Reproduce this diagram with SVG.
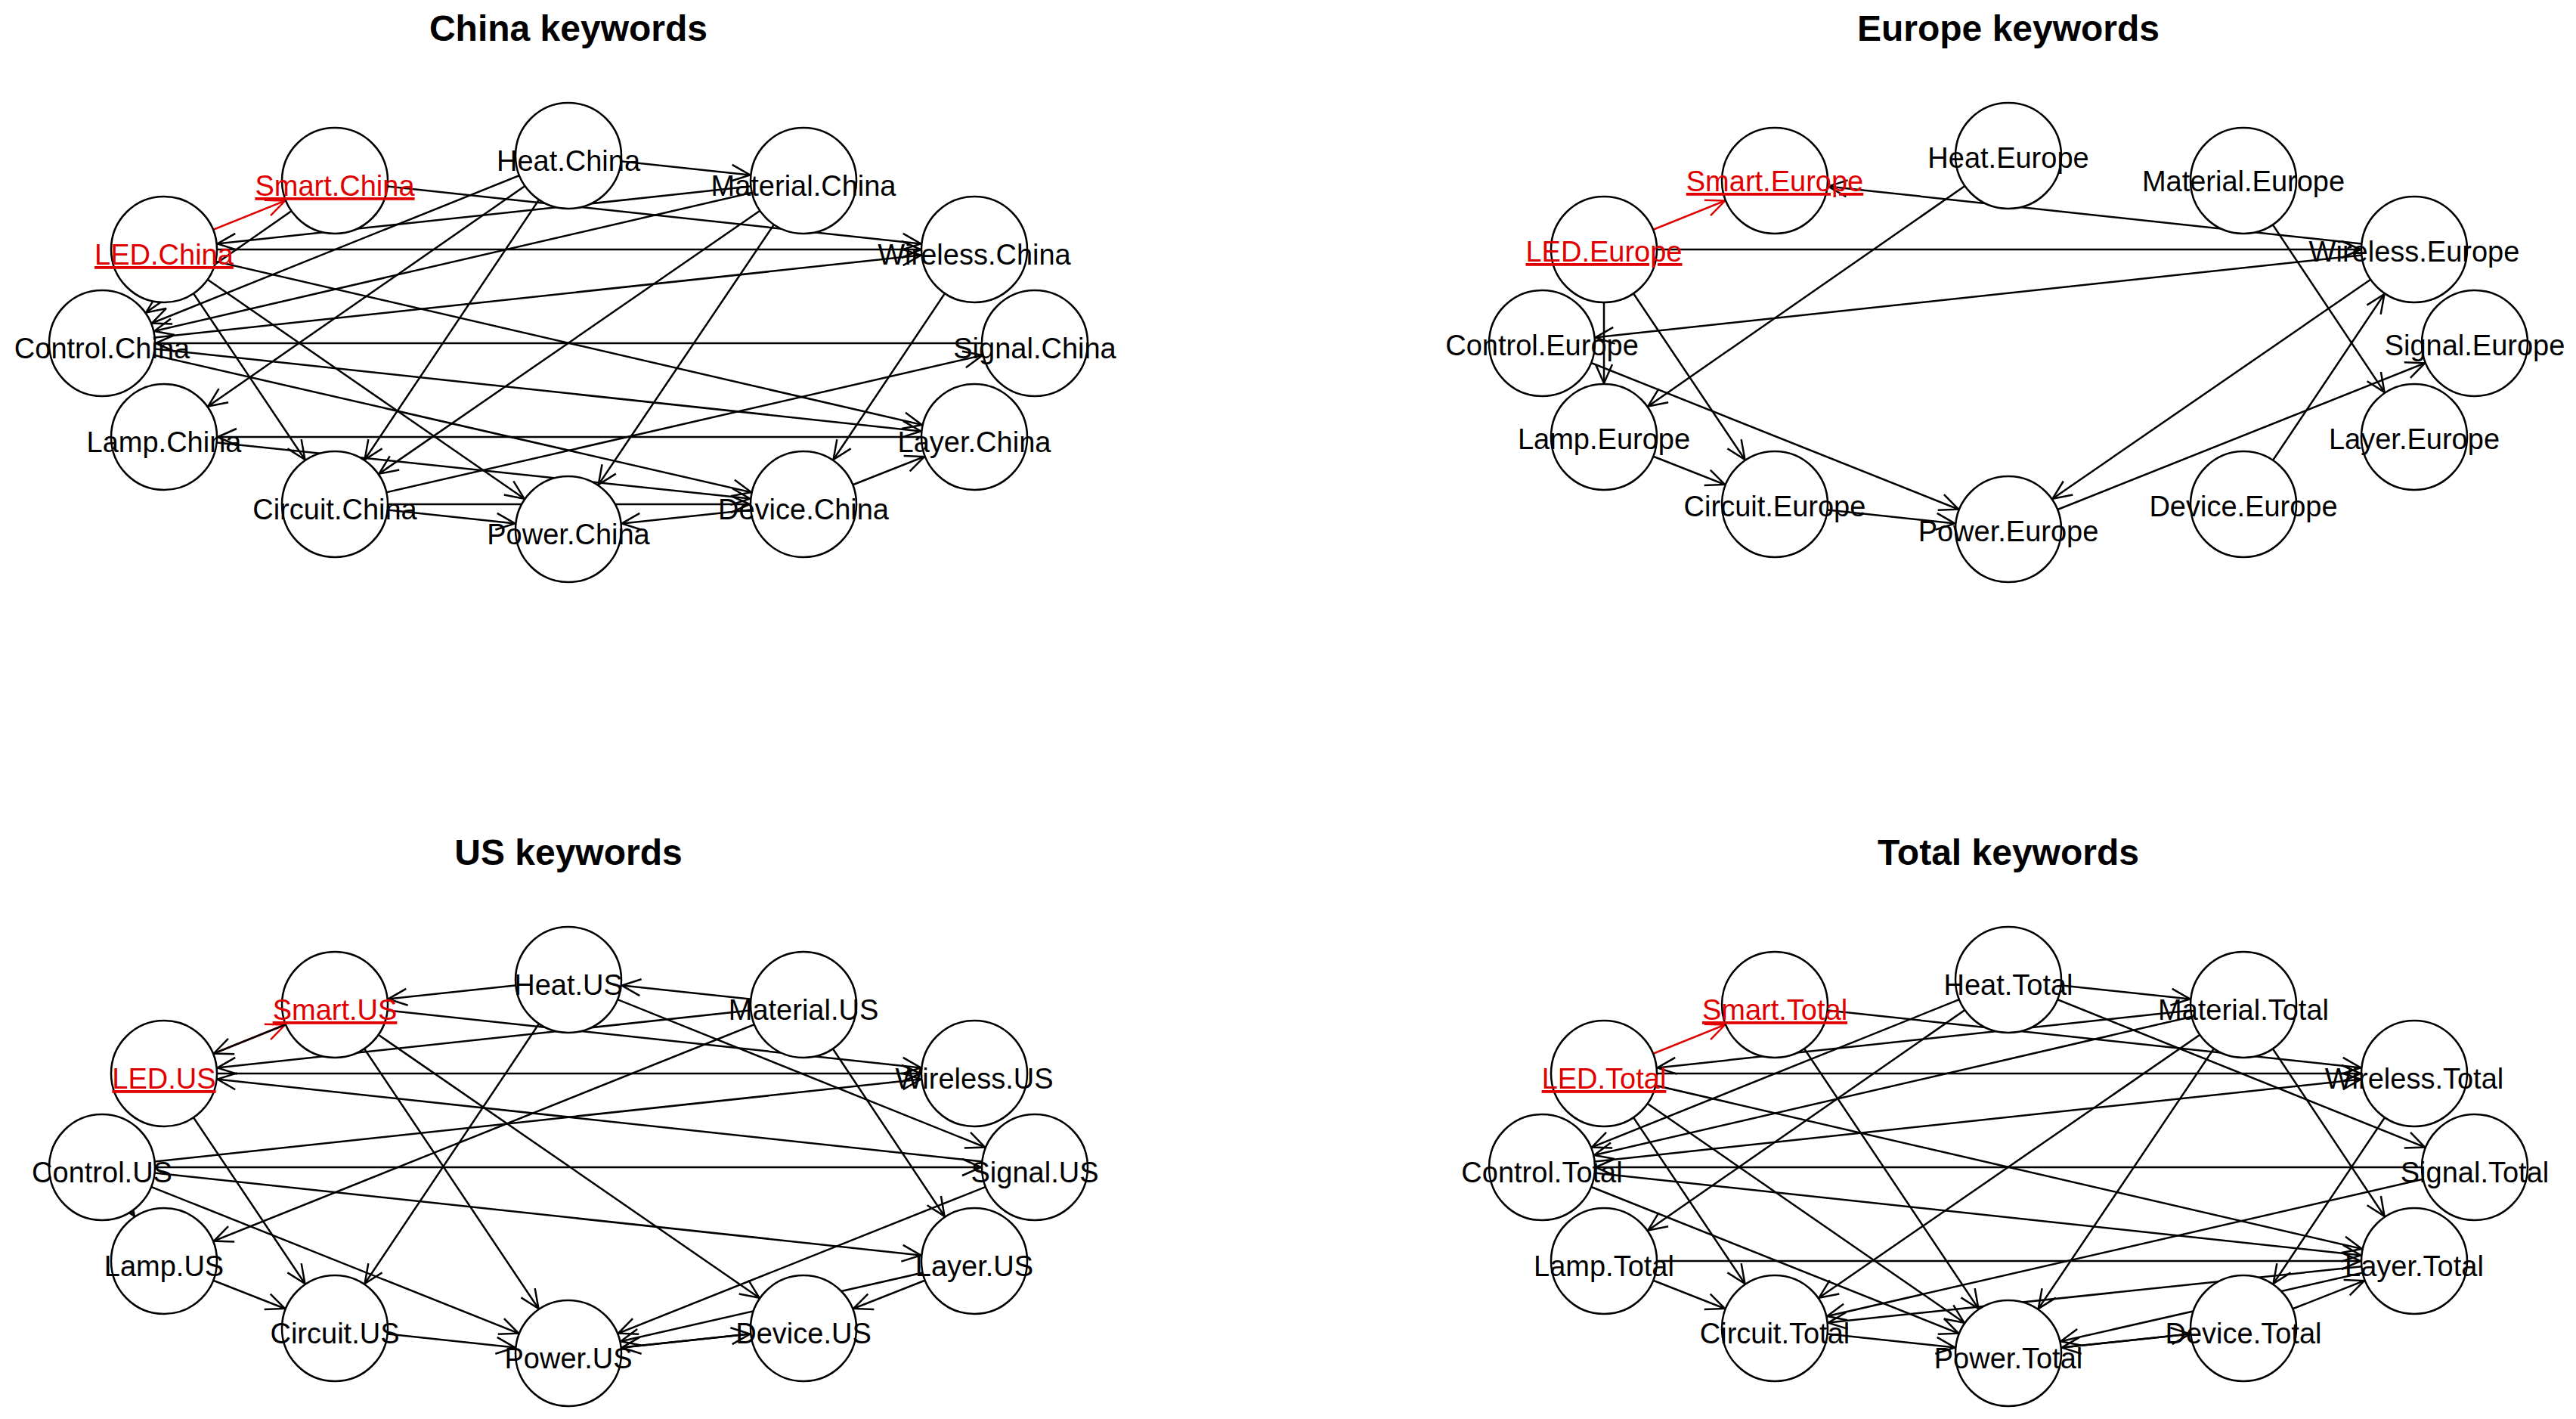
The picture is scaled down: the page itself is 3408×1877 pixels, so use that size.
<svg xmlns="http://www.w3.org/2000/svg" width="3408" height="1877" viewBox="0 0 3408 1877">
<style>
.t{font-family:"Liberation Sans",Arial,sans-serif;font-weight:bold;font-size:48px;text-anchor:middle;fill:#000}
.l{font-family:"Liberation Sans",Arial,sans-serif;font-size:38px;text-anchor:middle;fill:#000}
.r{fill:#e00000;text-decoration:underline}
.n{fill:#fff;stroke:#000;stroke-width:2.5}
.e{stroke:#000;stroke-width:2.5;fill:none;marker-end:url(#a)}
.er{stroke:#e00000;stroke-width:2.5;fill:none;marker-end:url(#ar)}
</style>
<defs>
<marker id="a" markerUnits="userSpaceOnUse" orient="auto" markerWidth="10" markerHeight="10" refX="0" refY="0" overflow="visible"><path d="M-96,-11 L-71,0 L-96,11" fill="none" stroke="#000" stroke-width="2.5"/></marker>
<marker id="ar" markerUnits="userSpaceOnUse" orient="auto" markerWidth="10" markerHeight="10" refX="0" refY="0" overflow="visible"><path d="M-96,-11 L-71,0 L-96,11" fill="none" stroke="#e00000" stroke-width="2.5"/></marker>
</defs>
<rect width="3408" height="1877" fill="#fff"/>
<text class="t" x="752" y="54">China keywords</text>
<text class="t" x="2657" y="54">Europe keywords</text>
<text class="t" x="752" y="1144">US keywords</text>
<text class="t" x="2657" y="1144">Total keywords</text>
<g id="connectors">
<g transform="translate(0,0)">
<line class="er" x1="217" y1="330" x2="443" y2="239"/>
<line class="e" x1="752" y1="206" x2="1063" y2="239"/>
<line class="e" x1="443" y1="239" x2="1289" y2="330"/>
<line class="e" x1="217" y1="330" x2="1289" y2="330"/>
<line class="e" x1="135" y1="454" x2="1289" y2="330"/>
<line class="e" x1="1063" y1="239" x2="217" y2="330"/>
<line class="e" x1="1063" y1="239" x2="135" y2="454"/>
<line class="e" x1="752" y1="206" x2="135" y2="454"/>
<line class="e" x1="1369" y1="454" x2="135" y2="454"/>
<line class="e" x1="752" y1="206" x2="217" y2="578"/>
<line class="e" x1="752" y1="206" x2="443" y2="667"/>
<line class="e" x1="1063" y1="239" x2="443" y2="667"/>
<line class="e" x1="1063" y1="239" x2="752" y2="700"/>
<line class="e" x1="217" y1="330" x2="1289" y2="578"/>
<line class="e" x1="217" y1="330" x2="752" y2="700"/>
<line class="e" x1="217" y1="330" x2="443" y2="667"/>
<line class="e" x1="135" y1="454" x2="1289" y2="578"/>
<line class="e" x1="135" y1="454" x2="1063" y2="667"/>
<line class="e" x1="1289" y1="578" x2="217" y2="578"/>
<line class="e" x1="217" y1="578" x2="1063" y2="667"/>
<line class="e" x1="443" y1="667" x2="1063" y2="667"/>
<line class="e" x1="443" y1="667" x2="752" y2="700"/>
<line class="e" x1="1063" y1="667" x2="752" y2="700"/>
<line class="e" x1="443" y1="667" x2="1369" y2="454"/>
<line class="e" x1="1063" y1="667" x2="1289" y2="578"/>
<line class="e" x1="1289" y1="330" x2="1063" y2="667"/>
<line class="e" x1="443" y1="239" x2="135" y2="454"/>
</g>
<g transform="translate(1905,0)">
<line class="er" x1="217" y1="330" x2="443" y2="239"/>
<line class="e" x1="1289" y1="330" x2="443" y2="239"/>
<line class="e" x1="217" y1="330" x2="1289" y2="330"/>
<line class="e" x1="1289" y1="330" x2="135" y2="454"/>
<line class="e" x1="752" y1="206" x2="217" y2="578"/>
<line class="e" x1="217" y1="330" x2="443" y2="667"/>
<line class="e" x1="217" y1="330" x2="217" y2="578"/>
<line class="e" x1="135" y1="454" x2="752" y2="700"/>
<line class="e" x1="217" y1="578" x2="443" y2="667"/>
<line class="e" x1="443" y1="667" x2="752" y2="700"/>
<line class="e" x1="1289" y1="330" x2="752" y2="700"/>
<line class="e" x1="752" y1="700" x2="1369" y2="454"/>
<line class="e" x1="1063" y1="667" x2="1289" y2="330"/>
<line class="e" x1="1063" y1="239" x2="1289" y2="578"/>
</g>
<g transform="translate(0,1090)">
<line class="er" x1="217" y1="330" x2="443" y2="239"/>
<line class="e" x1="443" y1="239" x2="217" y2="330"/>
<line class="e" x1="752" y1="206" x2="443" y2="239"/>
<line class="e" x1="1063" y1="239" x2="217" y2="330"/>
<line class="e" x1="217" y1="330" x2="1289" y2="330"/>
<line class="e" x1="1369" y1="454" x2="217" y2="330"/>
<line class="e" x1="443" y1="239" x2="1289" y2="330"/>
<line class="e" x1="135" y1="454" x2="1289" y2="330"/>
<line class="e" x1="135" y1="454" x2="1369" y2="454"/>
<line class="e" x1="135" y1="454" x2="1289" y2="578"/>
<line class="e" x1="217" y1="330" x2="443" y2="667"/>
<line class="e" x1="135" y1="454" x2="752" y2="700"/>
<line class="e" x1="217" y1="578" x2="443" y2="667"/>
<line class="e" x1="752" y1="206" x2="443" y2="667"/>
<line class="e" x1="443" y1="239" x2="752" y2="700"/>
<line class="e" x1="443" y1="239" x2="1063" y2="667"/>
<line class="e" x1="752" y1="206" x2="1369" y2="454"/>
<line class="e" x1="1063" y1="239" x2="217" y2="578"/>
<line class="e" x1="1063" y1="239" x2="1289" y2="578"/>
<line class="e" x1="1063" y1="239" x2="752" y2="206"/>
<line class="e" x1="1289" y1="578" x2="1063" y2="667"/>
<line class="e" x1="1289" y1="578" x2="752" y2="700"/>
<line class="e" x1="1369" y1="454" x2="752" y2="700"/>
<line class="e" x1="1063" y1="667" x2="752" y2="700"/>
<line class="e" x1="443" y1="667" x2="752" y2="700"/>
<line class="e" x1="752" y1="700" x2="1063" y2="667"/>
<line class="e" x1="135" y1="454" x2="217" y2="578"/>
</g>
<g transform="translate(1905,1090)">
<line class="er" x1="217" y1="330" x2="443" y2="239"/>
<line class="e" x1="752" y1="206" x2="1063" y2="239"/>
<line class="e" x1="443" y1="239" x2="1289" y2="330"/>
<line class="e" x1="217" y1="330" x2="1289" y2="330"/>
<line class="e" x1="135" y1="454" x2="1289" y2="330"/>
<line class="e" x1="1063" y1="239" x2="135" y2="454"/>
<line class="e" x1="752" y1="206" x2="135" y2="454"/>
<line class="e" x1="1063" y1="239" x2="217" y2="330"/>
<line class="e" x1="1369" y1="454" x2="135" y2="454"/>
<line class="e" x1="217" y1="330" x2="1289" y2="578"/>
<line class="e" x1="135" y1="454" x2="1289" y2="578"/>
<line class="e" x1="217" y1="578" x2="1289" y2="578"/>
<line class="e" x1="217" y1="330" x2="752" y2="700"/>
<line class="e" x1="752" y1="206" x2="217" y2="578"/>
<line class="e" x1="1063" y1="239" x2="443" y2="667"/>
<line class="e" x1="1063" y1="239" x2="752" y2="700"/>
<line class="e" x1="443" y1="667" x2="752" y2="700"/>
<line class="e" x1="1063" y1="667" x2="752" y2="700"/>
<line class="e" x1="1289" y1="578" x2="443" y2="667"/>
<line class="e" x1="1369" y1="454" x2="443" y2="667"/>
<line class="e" x1="1289" y1="578" x2="752" y2="700"/>
<line class="e" x1="1063" y1="667" x2="1289" y2="578"/>
<line class="e" x1="443" y1="239" x2="752" y2="700"/>
<line class="e" x1="752" y1="206" x2="1369" y2="454"/>
<line class="e" x1="1063" y1="239" x2="1289" y2="578"/>
<line class="e" x1="217" y1="330" x2="443" y2="667"/>
<line class="e" x1="135" y1="454" x2="752" y2="700"/>
<line class="e" x1="217" y1="578" x2="443" y2="667"/>
<line class="e" x1="1289" y1="330" x2="1063" y2="667"/>
<line class="e" x1="752" y1="700" x2="1063" y2="667"/>
</g>
</g>
<g id="china" transform="translate(0,0)">
<g id="smart-china"><circle class="n" cx="443" cy="239" r="70"/><text class="l r" x="443" y="259">Smart.China</text></g>
<g id="heat-china"><circle class="n" cx="752" cy="206" r="70"/><text class="l" x="752" y="226">Heat.China</text></g>
<g id="material-china"><circle class="n" cx="1063" cy="239" r="70"/><text class="l" x="1063" y="259">Material.China</text></g>
<g id="wireless-china"><circle class="n" cx="1289" cy="330" r="70"/><text class="l" x="1289" y="350">Wireless.China</text></g>
<g id="signal-china"><circle class="n" cx="1369" cy="454" r="70"/><text class="l" x="1369" y="474">Signal.China</text></g>
<g id="layer-china"><circle class="n" cx="1289" cy="578" r="70"/><text class="l" x="1289" y="598">Layer.China</text></g>
<g id="device-china"><circle class="n" cx="1063" cy="667" r="70"/><text class="l" x="1063" y="687">Device.China</text></g>
<g id="power-china"><circle class="n" cx="752" cy="700" r="70"/><text class="l" x="752" y="720">Power.China</text></g>
<g id="circuit-china"><circle class="n" cx="443" cy="667" r="70"/><text class="l" x="443" y="687">Circuit.China</text></g>
<g id="lamp-china"><circle class="n" cx="217" cy="578" r="70"/><text class="l" x="217" y="598">Lamp.China</text></g>
<g id="control-china"><circle class="n" cx="135" cy="454" r="70"/><text class="l" x="135" y="474">Control.China</text></g>
<g id="led-china"><circle class="n" cx="217" cy="330" r="70"/><text class="l r" x="217" y="350">LED.China</text></g>
</g>
<g id="europe" transform="translate(1905,0)">
<g id="smart-europe"><circle class="n" cx="443" cy="239" r="70"/><text class="l r" x="443" y="253">Smart.Europe</text></g>
<g id="heat-europe"><circle class="n" cx="752" cy="206" r="70"/><text class="l" x="752" y="222">Heat.Europe</text></g>
<g id="material-europe"><circle class="n" cx="1063" cy="239" r="70"/><text class="l" x="1063" y="253">Material.Europe</text></g>
<g id="wireless-europe"><circle class="n" cx="1289" cy="330" r="70"/><text class="l" x="1289" y="346">Wireless.Europe</text></g>
<g id="signal-europe"><circle class="n" cx="1369" cy="454" r="70"/><text class="l" x="1369" y="470">Signal.Europe</text></g>
<g id="layer-europe"><circle class="n" cx="1289" cy="578" r="70"/><text class="l" x="1289" y="594">Layer.Europe</text></g>
<g id="device-europe"><circle class="n" cx="1063" cy="667" r="70"/><text class="l" x="1063" y="683">Device.Europe</text></g>
<g id="power-europe"><circle class="n" cx="752" cy="700" r="70"/><text class="l" x="752" y="716">Power.Europe</text></g>
<g id="circuit-europe"><circle class="n" cx="443" cy="667" r="70"/><text class="l" x="443" y="683">Circuit.Europe</text></g>
<g id="lamp-europe"><circle class="n" cx="217" cy="578" r="70"/><text class="l" x="217" y="594">Lamp.Europe</text></g>
<g id="control-europe"><circle class="n" cx="135" cy="454" r="70"/><text class="l" x="135" y="470">Control.Europe</text></g>
<g id="led-europe"><circle class="n" cx="217" cy="330" r="70"/><text class="l r" x="217" y="346">LED.Europe</text></g>
</g>
<g id="us" transform="translate(0,1090)">
<g id="smart-us"><circle class="n" cx="443" cy="239" r="70"/><text class="l r" x="443" y="259">Smart.US</text></g>
<g id="heat-us"><circle class="n" cx="752" cy="206" r="70"/><text class="l" x="752" y="226">Heat.US</text></g>
<g id="material-us"><circle class="n" cx="1063" cy="239" r="70"/><text class="l" x="1063" y="259">Material.US</text></g>
<g id="wireless-us"><circle class="n" cx="1289" cy="330" r="70"/><text class="l" x="1289" y="350">Wireless.US</text></g>
<g id="signal-us"><circle class="n" cx="1369" cy="454" r="70"/><text class="l" x="1369" y="474">Signal.US</text></g>
<g id="layer-us"><circle class="n" cx="1289" cy="578" r="70"/><text class="l" x="1289" y="598">Layer.US</text></g>
<g id="device-us"><circle class="n" cx="1063" cy="667" r="70"/><text class="l" x="1063" y="687">Device.US</text></g>
<g id="power-us"><circle class="n" cx="752" cy="700" r="70"/><text class="l" x="752" y="720">Power.US</text></g>
<g id="circuit-us"><circle class="n" cx="443" cy="667" r="70"/><text class="l" x="443" y="687">Circuit.US</text></g>
<g id="lamp-us"><circle class="n" cx="217" cy="578" r="70"/><text class="l" x="217" y="598">Lamp.US</text></g>
<g id="control-us"><circle class="n" cx="135" cy="454" r="70"/><text class="l" x="135" y="474">Control.US</text></g>
<g id="led-us"><circle class="n" cx="217" cy="330" r="70"/><text class="l r" x="217" y="350">LED.US</text></g>
</g>
<g id="total" transform="translate(1905,1090)">
<g id="smart-total"><circle class="n" cx="443" cy="239" r="70"/><text class="l r" x="443" y="259">Smart.Total</text></g>
<g id="heat-total"><circle class="n" cx="752" cy="206" r="70"/><text class="l" x="752" y="226">Heat.Total</text></g>
<g id="material-total"><circle class="n" cx="1063" cy="239" r="70"/><text class="l" x="1063" y="259">Material.Total</text></g>
<g id="wireless-total"><circle class="n" cx="1289" cy="330" r="70"/><text class="l" x="1289" y="350">Wireless.Total</text></g>
<g id="signal-total"><circle class="n" cx="1369" cy="454" r="70"/><text class="l" x="1369" y="474">Signal.Total</text></g>
<g id="layer-total"><circle class="n" cx="1289" cy="578" r="70"/><text class="l" x="1289" y="598">Layer.Total</text></g>
<g id="device-total"><circle class="n" cx="1063" cy="667" r="70"/><text class="l" x="1063" y="687">Device.Total</text></g>
<g id="power-total"><circle class="n" cx="752" cy="700" r="70"/><text class="l" x="752" y="720">Power.Total</text></g>
<g id="circuit-total"><circle class="n" cx="443" cy="667" r="70"/><text class="l" x="443" y="687">Circuit.Total</text></g>
<g id="lamp-total"><circle class="n" cx="217" cy="578" r="70"/><text class="l" x="217" y="598">Lamp.Total</text></g>
<g id="control-total"><circle class="n" cx="135" cy="454" r="70"/><text class="l" x="135" y="474">Control.Total</text></g>
<g id="led-total"><circle class="n" cx="217" cy="330" r="70"/><text class="l r" x="217" y="350">LED.Total</text></g>
</g>
</svg>
